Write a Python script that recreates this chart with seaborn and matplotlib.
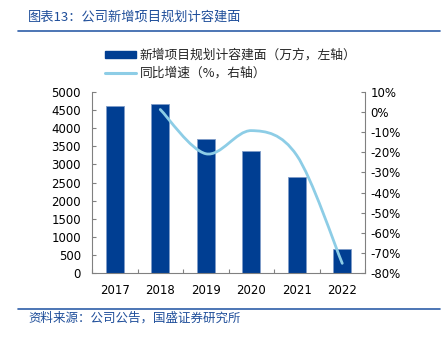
import matplotlib
matplotlib.use("Agg")
import matplotlib.pyplot as plt
from matplotlib.path import Path
from matplotlib.patches import PathPatch, Patch
from matplotlib.lines import Line2D
import numpy as np
import pandas as pd
import seaborn as sns

# ---- data ----
years = ["2017", "2018", "2019", "2020", "2021", "2022"]
area = [4620, 4680, 3710, 3370, 2645, 655]          # 万方
growth = [None, 1.3, -20.7, -9.2, -21.5, -75.2]     # %

left_ticks = [0, 500, 1000, 1500, 2000, 2500, 3000, 3500, 4000, 4500, 5000]
right_ticks = [-80, -70, -60, -50, -40, -30, -20, -10, 0, 10]

bar_label = "新增项目规划计容建面（万方，左轴）"
line_label = "同比增速（%，右轴）"
title = "图表13：公司新增项目规划计容建面"
source = "资料来源：公司公告，国盛证券研究所"

BAR_COLOR = "#003E92"
LINE_COLOR = "#8DCDE6"
TEXT_BLUE = "#1F4E9A"
RULE_BLUE = "#2E5DA8"

sns.set_theme(style="white")
plt.rcParams["font.family"] = ["DejaVu Sans", "Noto Sans CJK SC"]
cjk = ["Noto Sans CJK SC", "DejaVu Sans"]

df = pd.DataFrame({"year": years, "area": area})

fig = plt.figure(figsize=(4.46, 3.40), dpi=100)
ax = fig.add_axes([92 / 446, 67 / 340, 273 / 446, 181 / 340])

sns.barplot(data=df, x="year", y="area", color=BAR_COLOR, width=0.4,
            edgecolor="#7F9CC8", linewidth=0.6, saturation=1, ax=ax)
ax.set_xlim(-0.5, len(years) - 0.5)
ax.set_ylim(0, 5000)
ax.set_yticks(left_ticks)
ax.set_xlabel("")
ax.set_ylabel("")

# secondary axis for growth rate
ax2 = ax.twinx()
ax2.set_ylim(-80, 10)
ax2.set_yticks(right_ticks)
ax2.set_yticklabels([f"{t}%" for t in right_ticks])

# smooth growth curve as a cubic Bezier path through the data points
pts = [(i, g) for i, g in enumerate(growth) if g is not None]
P = np.array(pts, dtype=float)
verts = [tuple(P[0])]
codes = [Path.MOVETO]
n = len(P)
for i in range(n - 1):
    p_prev = P[i - 1] if i > 0 else P[i]
    p_next2 = P[i + 2] if i + 2 < n else P[i + 1]
    c1 = P[i] + (P[i + 1] - p_prev) / 6.0
    c2 = P[i + 1] - (p_next2 - P[i]) / 6.0
    verts += [tuple(c1), tuple(c2), tuple(P[i + 1])]
    codes += [Path.CURVE4] * 3
curve = PathPatch(Path(verts, codes), facecolor="none", edgecolor=LINE_COLOR,
                  linewidth=2.0, capstyle="round", zorder=3)
ax2.add_patch(curve)

# axis styling
for a in (ax, ax2):
    for s in a.spines.values():
        s.set_visible(False)
    a.grid(False)
ax.spines["left"].set_visible(True)
ax.spines["bottom"].set_visible(True)
ax2.spines["right"].set_visible(True)
for s in (ax.spines["left"], ax.spines["bottom"], ax2.spines["right"]):
    s.set_color("#808080")
    s.set_linewidth(0.8)

ax.tick_params(axis="y", which="major", direction="in", length=3, width=0.8,
               color="#808080", left=True, labelsize=8.5, labelcolor="black", pad=8)
ax.set_xticks(range(len(years)))
ax.set_xticklabels(years)
ax.tick_params(axis="x", which="major", length=0, labelsize=8.5, labelcolor="black", pad=8)
ax.set_xticks(np.arange(-0.5, len(years), 1.0), minor=True)
ax.tick_params(axis="x", which="minor", direction="in", length=3, width=0.8,
               color="#808080", bottom=True)
ax2.tick_params(axis="y", direction="in", length=3, width=0.8, color="#808080",
                right=True, labelsize=8.5, labelcolor="black", pad=4)

# legend
handles = [Patch(facecolor=BAR_COLOR, edgecolor=BAR_COLOR),
           Line2D([0], [0], color=LINE_COLOR, linewidth=2.2)]
leg = fig.legend(handles, [bar_label, line_label], loc="upper left",
                 bbox_to_anchor=(105 / 446, 1 - 49 / 340), frameon=False,
                 prop={"family": cjk, "size": 9.2}, handlelength=2.4,
                 handleheight=0.45, labelspacing=0.38, handletextpad=0.3,
                 borderpad=0, borderaxespad=0)

# header / footer
fig.text(28 / 446, 1 - 17 / 340, title, color=TEXT_BLUE, fontsize=9.5,
         family=cjk, va="center", ha="left", style="italic")
fig.add_artist(Line2D([18 / 446, 440 / 446], [1 - 31 / 340, 1 - 31 / 340],
                      color=RULE_BLUE, linewidth=1.2))
fig.add_artist(Line2D([18 / 446, 440 / 446], [1 - 309 / 340, 1 - 309 / 340],
                      color=RULE_BLUE, linewidth=1.2))
fig.text(28 / 446, 1 - 318 / 340, source, color=TEXT_BLUE, fontsize=9,
         family=cjk, va="center", ha="left", style="italic")

fig.savefig("out.png", dpi=100, facecolor="white")
